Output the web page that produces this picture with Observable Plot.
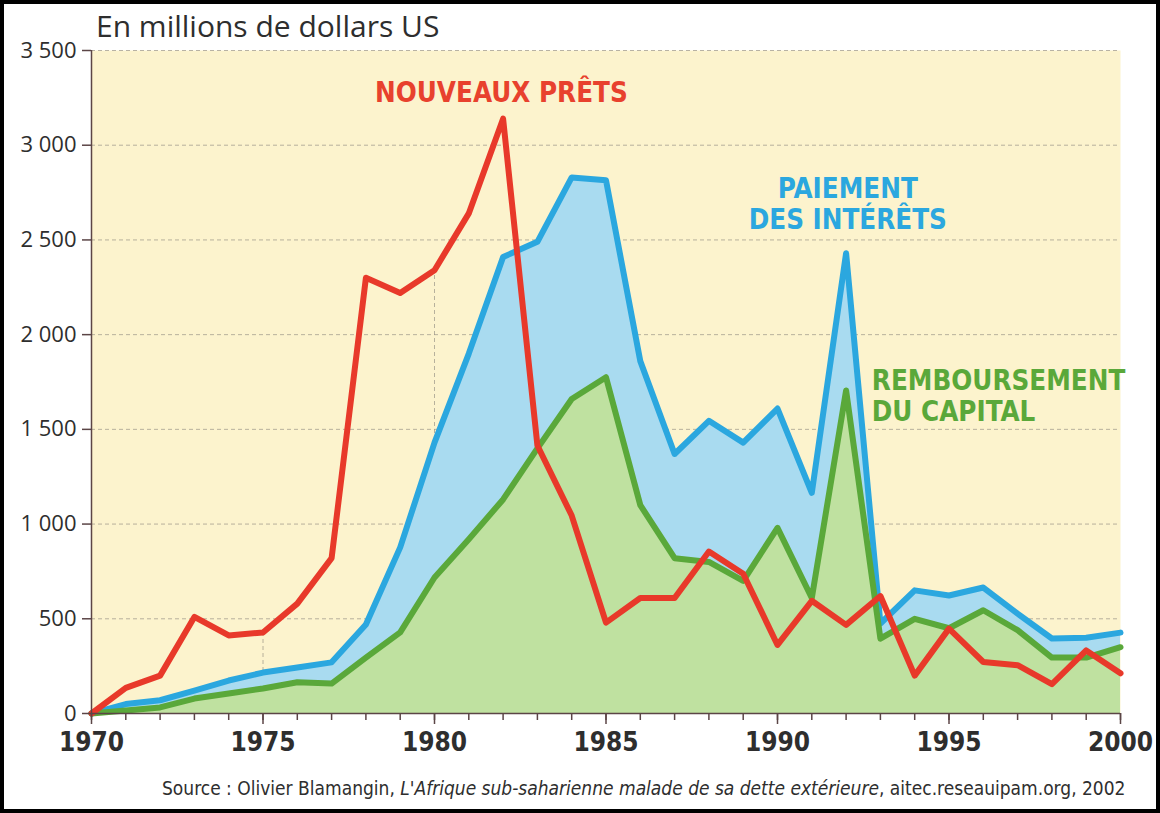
<!DOCTYPE html>
<html><head><meta charset="utf-8">
<script src="https://cdn.jsdelivr.net/npm/d3@7"></script>
<script src="https://cdn.jsdelivr.net/npm/@observablehq/plot@0.6"></script>
<style>
body{margin:0;background:#fff;width:1160px;height:813px;overflow:hidden;position:relative;font-family:"Open Sans",sans-serif}
#title{position:absolute;left:96px;top:8px;font-size:30px;line-height:36px;color:#2e2e2e;white-space:nowrap}
#chart{position:absolute;left:0;top:28px}
#caption{position:absolute;left:162px;top:776px;font-family:"DejaVu Sans Condensed",sans-serif;font-size:19px;line-height:24px;color:#2e2e2e;white-space:nowrap}
#frame{position:absolute;left:0;top:0;width:1160px;height:813px;box-sizing:border-box;border:4px solid #000;pointer-events:none}
</style></head>
<body>
<div id="title">En millions de dollars US</div>
<div id="chart"></div>
<div id="caption">Source : Olivier Blamangin, <i>L'Afrique sub-saharienne malade de sa dette extérieure</i>, aitec.reseauipam.org, 2002</div>
<div id="frame"></div>
<script>
const years = d3.range(1970, 2001);
// Nouveaux prêts (red)
const nouveauxPrets = [0,135,200,510,412,428,580,820,2300,2220,2340,2640,3140,1415,1045,480,610,610,855,738,362,595,468,620,200,448,272,255,155,333,212];
// Service total : capital + intérêts (blue line, top of blue band)
const serviceTotal = [0,50,70,121,174,216,243,270,470,877,1430,1900,2410,2490,2830,2815,1860,1370,1545,1430,1610,1165,2430,475,650,623,665,527,396,400,427];
// Remboursement du capital (green)
const capital = [0,16,32,79,106,132,165,158,295,428,718,920,1130,1400,1660,1775,1100,820,800,700,980,610,1705,395,500,450,545,440,295,295,350];
const yTicks = [0,500,1000,1500,2000,2500,3000,3500];
const xMajorTicks = [1970,1975,1980,1985,1990,1995,2000];
const labelText = ["NOUVEAUX PRÊTS", "PAIEMENT\nDES INTÉRÊTS", "REMBOURSEMENT\nDU CAPITAL"];
const labelYear = [1981.95, 1992.05, 1992.75];
const labelValue = [3280, 2690, 1680];
const labelColor = ["#e8412d", "#2ba7df", "#5aa83a"];
const labelAnchor = ["middle", "middle", "start"];

const data = years.map((y, i) => ({year: y, prets: nouveauxPrets[i], total: serviceTotal[i], capital: capital[i]}));
const labels = labelText.map((t, i) => ({text: t, year: labelYear[i], value: labelValue[i], color: labelColor[i], anchor: labelAnchor[i]}));
const drops = data.filter(d => xMajorTicks.includes(d.year) && d.year > 1970 && d.year < 2000);

const fmt = d => d >= 1000 ? `${Math.floor(d/1000)} ${String(d%1000).padStart(3,"0")}` : String(d);
const narrow = `"DejaVu Sans Condensed",sans-serif`;
const axisColor = "#5b4546";
const labelMark = anchor => Plot.text(labels.filter(d => d.anchor === anchor), {
  x: "year", y: "value", text: "text", fill: "color", textAnchor: anchor,
  fontSize: 27.5, fontWeight: "bold", fontFamily: narrow, lineHeight: 1.12, lineAnchor: "middle"
});

const chart = Plot.plot({
  width: 1160, height: 745,
  marginLeft: 91, marginRight: 40, marginTop: 22, marginBottom: 60,
  style: {background: "transparent", fontFamily: `"Open Sans",sans-serif`, color: "#2e2e2e"},
  x: {domain: [1970, 2000], label: null},
  y: {domain: [0, 3500], label: null},
  marks: [
    Plot.frame({fill: "#fcf3cd", stroke: "none"}),
    Plot.gridY(yTicks.slice(1), {stroke: "#9a9488", strokeOpacity: 0.7, strokeDasharray: "4,3", strokeWidth: 1}),
    Plot.ruleX(drops, {x: "year", y1: 0, y2: "prets", stroke: "#9a9488", strokeOpacity: 0.7, strokeDasharray: "4,3", strokeWidth: 1}),
    Plot.areaY(data, {x: "year", y1: "capital", y2: "total", fill: "#a9dbf0", curve: "linear"}),
    Plot.areaY(data, {x: "year", y1: 0, y2: "capital", fill: "#bfe1a0", curve: "linear"}),
    Plot.line(data, {x: "year", y: "total", stroke: "#2ba7df", strokeWidth: 6, strokeLinejoin: "round"}),
    Plot.line(data, {x: "year", y: "capital", stroke: "#5aa83a", strokeWidth: 6, strokeLinejoin: "round"}),
    Plot.line(data, {x: "year", y: "prets", stroke: "#e8392a", strokeWidth: 6, strokeLinejoin: "round"}),
    Plot.ruleX([1970], {stroke: axisColor, strokeWidth: 1.5}),
    Plot.ruleY([0], {stroke: axisColor, strokeWidth: 1.5}),
    Plot.axisY({ticks: yTicks, tickFormat: fmt, tickSize: 9, tickPadding: 6, fontSize: 22, stroke: axisColor, strokeWidth: 1.5}),
    Plot.axisX({ticks: years, tickFormat: () => "", tickSize: 7, stroke: axisColor, strokeWidth: 1.5}),
    Plot.axisX({ticks: xMajorTicks, tickFormat: d => String(d), tickSize: 11, tickPadding: 8, fontSize: 26, fontWeight: "bold", fontFamily: narrow, stroke: axisColor, strokeWidth: 1.5}),
    labelMark("middle"),
    labelMark("start")
  ]
});
document.getElementById("chart").appendChild(chart);
</script>
</body></html>
